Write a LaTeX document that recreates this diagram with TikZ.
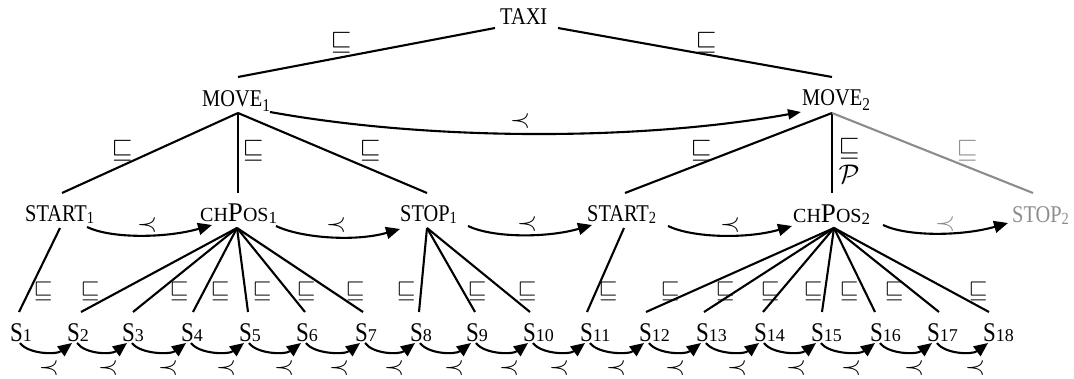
\RequirePackage{fix-cm}
\documentclass[tikz,border=0pt]{standalone}
\usepackage{fontspec}
\setmainfont{Liberation Serif}
\newfontfamily\cnd[FakeStretch=0.85]{Liberation Serif}
\usetikzlibrary{arrows.meta}
\definecolor{lg}{RGB}{140,140,140}
\newcommand{\bt}{\cnd\fontsize{24}{24}\selectfont}
\newcommand{\lsub}[1]{\raisebox{-1.5pt}{\fontsize{17}{17}\selectfont #1}}
\newcommand{\msub}[1]{\raisebox{-5pt}{\fontsize{18}{18}\selectfont #1}}
\newcommand{\chpos}{{\fontsize{20}{20}\selectfont CH}{\fontsize{27}{27}\selectfont P}{\fontsize{20}{20}\selectfont OS}}
\newcommand{\sname}[1]{{\cnd\fontsize{27}{27}\selectfont S}{\fontsize{18}{18}\selectfont #1}}
\newcommand{\bigsq}{\resizebox{21pt}{!}{$\sqsubseteq$}}
\newcommand{\smsq}{\resizebox{19pt}{!}{$\sqsubseteq$}}
\newcommand{\pr}{\resizebox{20pt}{!}{$\prec$}}
\begin{document}
\begin{tikzpicture}[x=1pt,y=-1pt,
 txt/.style={inner sep=0pt,anchor=base west},
 edge/.style={line width=2.1pt},
 gedge/.style={line width=2.1pt,draw=lg},
 arr/.style={line width=2.1pt,-{Triangle[length=14pt,width=12pt]}},
 rel/.style={inner sep=0pt},
]
\useasboundingbox (0,0) rectangle (1074,379);

% level 0 / 1
\node[txt] (taxi) at (500,25) {\bt TAXI};
\node[txt] (move1) at (202,107) {\bt MOVE\msub{1}};
\node[txt] (move2) at (802,106) {\bt MOVE\msub{2}};
% level 2
\node[txt] (start1) at (25,222) {\bt START\lsub{1}};
\node[txt] (chpos1) at (200,222) {\chpos\lsub{1}};
\node[txt] (stop1) at (400,222) {\bt STOP\lsub{1}};
\node[txt] (start2) at (587,222) {\bt START\lsub{2}};
\node[txt] (chpos2) at (793,223) {\chpos\lsub{2}};
\node[txt,text=lg] (stop2) at (1012,223) {\bt STOP\lsub{2}};

% connection points
\coordinate (taxi-l) at (495,28);
\coordinate (taxi-r) at (558,28);
\coordinate (move1-t) at (238,77);
\coordinate (move2-t) at (832,77);
\coordinate (move1-b) at (238,113);
\coordinate (move2-b) at (832,113);
\coordinate (start1-t) at (62,193);
\coordinate (chpos1-t) at (238,193);
\coordinate (stop1-t) at (427,193);
\coordinate (start2-t) at (625,193);
\coordinate (chpos2-t) at (832,193);
\coordinate (stop2-t) at (1033,193);
\coordinate (start1-b) at (60,228);
\coordinate (chpos1-b) at (237,228);
\coordinate (stop1-b) at (427,228);
\coordinate (start2-b) at (624,228);
\coordinate (chpos2-b) at (834,228);

% tree edges
\draw[edge] (taxi-l) -- (move1-t);
\draw[edge] (taxi-r) -- (move2-t);
\draw[edge] (move1-b) -- (start1-t);
\draw[edge] (move1-b) -- (chpos1-t);
\draw[edge] (move1-b) -- (stop1-t);
\draw[edge] (move2-b) -- (start2-t);
\draw[edge] (move2-b) -- (chpos2-t);
\draw[gedge] (move2-b) -- (stop2-t);

\node[rel] (r1) at (341,43) {\bigsq};
\node[rel] (r2) at (706,43) {\bigsq};
\node[rel] (r3) at (122,151) {\bigsq};
\node[rel] (r4) at (253,151) {\bigsq};
\node[rel] (r5) at (370,151) {\bigsq};
\node[rel] (r6) at (701,151) {\bigsq};
\node[rel] (r7) at (849,149) {\bigsq};
\node[rel,text=lg] (r8) at (967,151) {\bigsq};
\node[rel] (pp) at (849,174) {\resizebox{21pt}{!}{$\mathcal{P}$}};

% precedence between moves
\coordinate (move1-r) at (270,112);
\coordinate (move2-l) at (801,112);
\draw[line width=2.1pt,-{Triangle[length=13pt,width=10pt]}] (move1-r) .. controls (430,141) and (640,141) .. (move2-l);
\node[rel] (p0) at (520,121) {\pr};

% precedence at level 2
\coordinate (start1-r) at (87,227);  \coordinate (chpos1-l) at (212,225);
\coordinate (chpos1-r) at (276,226); \coordinate (stop1-l) at (400,229);
\coordinate (stop1-r) at (468,226);  \coordinate (start2-l) at (592,225);
\coordinate (start2-r) at (668,226); \coordinate (chpos2-l) at (792,226);
\coordinate (chpos2-r) at (883,225); \coordinate (stop2-l) at (1008,223);
\foreach \a/\b in {start1-r/chpos1-l,chpos1-r/stop1-l,stop1-r/start2-l,start2-r/chpos2-l,chpos2-r/stop2-l}
  \draw[arr] (\a) .. controls +(25,12) and +(-45,13) .. (\b);
\node[rel] (q1) at (147,225) {\pr};
\node[rel] (q2) at (336,225) {\pr};
\node[rel] (q3) at (527,224) {\pr};
\node[rel] (q4) at (730,225) {\pr};
\node[rel,text=lg] (q5) at (945,224) {\pr};

% level 3
\foreach \i/\x/\e/\p in {1/10/19/start1-b, 2/67/81/chpos1-b, 3/122/133/chpos1-b, 4/181/193/chpos1-b,
  5/239/248/chpos1-b, 6/296/305/chpos1-b, 7/355/363/chpos1-b, 8/410/419/stop1-b, 9/466/475/stop1-b,
  10/523/530/stop1-b, 11/580/587/start2-b, 12/639/646/chpos2-b, 13/696/704/chpos2-b, 14/754/763/chpos2-b,
  15/811/822/chpos2-b, 16/870/875/chpos2-b, 17/927/939/chpos2-b, 18/983/989/chpos2-b}
{
  \node[txt] (s\i) at (\x,342) {\sname{\i}};
  \coordinate (st\i) at (\e,312);
  \draw[edge] (\p) -- (st\i);
}
\foreach \x in {43,90,179,220,262,306,355,406,477,527,608,670,725,770,813,849,894,978}
  \node[rel] at (\x,291) {\smsq};

\foreach \i in {1,...,17}{
  \pgfmathtruncatemacro{\j}{\i+1}
  \draw[arr] ([shift={(10,1)}]s\i.base west) .. controls +(8,11) and +(-16,12) .. ([shift={(5,1)}]s\j.base west);
}
\foreach \x in {49,108,168,226,284,339,394,454,509,559,616,675,737,796,851,914,975}
  \node[rel] at (\x,368) {\pr};
\end{tikzpicture}
\end{document}
